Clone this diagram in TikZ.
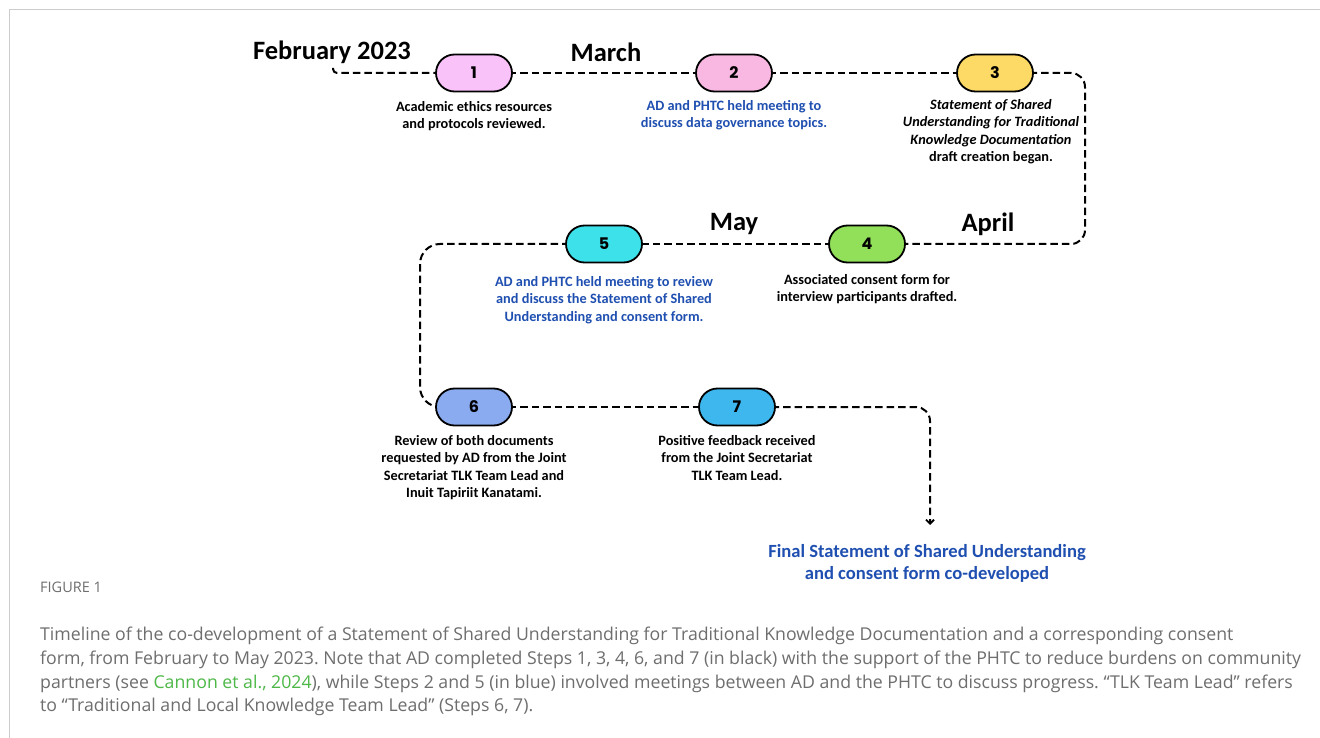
\documentclass[tikz,border=0pt]{standalone}
\usepackage{fontspec}
\setmainfont{Carlito}
\newfontfamily\numfont{Poppins}
\newfontfamily\capfont{Open Sans}
\usetikzlibrary{shapes.misc,arrows.meta}
\definecolor{tblue}{HTML}{1F4FB0}
\definecolor{capgray}{HTML}{6E6E6E}
\definecolor{capgreen}{HTML}{4DB848}
\definecolor{c1}{HTML}{F9C2F9}
\definecolor{c2}{HTML}{F8B8E2}
\definecolor{c3}{HTML}{FDD966}
\definecolor{c4}{HTML}{92E05A}
\definecolor{c5}{HTML}{3DE1EA}
\definecolor{c6}{HTML}{8AABF0}
\definecolor{c7}{HTML}{3EB7EF}
\tikzset{
  stepnode/.style={rounded rectangle, draw=black, line width=1.8pt, minimum width=76pt, minimum height=37pt, inner sep=0pt, font=\numfont\bfseries\fontsize{16}{16}\selectfont},
  dashline/.style={draw=black, line width=2pt, dash pattern=on 7.5pt off 4pt, rounded corners=14pt},
  month/.style={font=\bfseries\fontsize{26.5}{26.5}\selectfont, inner sep=0pt},
  lab/.style={align=center, inner sep=0pt, anchor=north, font=\bfseries\fontsize{14.3}{17.5}\selectfont},
  bluelab/.style={lab, text=tblue},
  caption/.style={anchor=base west, inner sep=0pt, text=capgray, font=\capfont\fontsize{17.7}{20}\selectfont}
}
\begin{document}
\frenchspacing
\begin{tikzpicture}[x=1pt,y=-1pt]
\useasboundingbox (0,0) rectangle (1320,738);
\fill[white] (0,0) rectangle (1320,738);
\draw[black!20, line width=1pt] (9.5,738) -- (9.5,9.5) -- (1320,9.5);

% coordinates
\coordinate (start) at (333,68);
\coordinate (c3a) at (1085,73);
\coordinate (c3b) at (1085,244);
\coordinate (c5a) at (420,244);
\coordinate (c5b) at (420,407);
\coordinate (c7a) at (930,407);
\coordinate (endp) at (930,525);

% nodes positions
\path (474,73) coordinate (p1) (734,73) coordinate (p2) (995,73) coordinate (p3)
      (867,244) coordinate (p4) (604,244) coordinate (p5)
      (474,407) coordinate (p6) (737,407) coordinate (p7);

% connectors
\draw[dashline, rounded corners=4pt] (start) -- (333,73) -- (p1);
\draw[dashline] (p1) -- (p2);
\draw[dashline] (p2) -- (p3);
\draw[dashline] (p3) -- (c3a) -- (c3b) -- (p4);
\draw[dashline] (p4) -- (p5);
\draw[dashline, rounded corners=20pt] (p5) -- (c5a) -- (c5b) -- (p6);
\draw[dashline] (p6) -- (p7);
\draw[dashline, -{Straight Barb[length=4pt,width=8pt,line width=1.8pt]}] (p7) -- (c7a) -- (endp);

% step nodes
\node[stepnode, fill=c1] (n1) at (p1) {1};
\node[stepnode, fill=c2] (n2) at (p2) {2};
\node[stepnode, fill=c3] (n3) at (p3) {3};
\node[stepnode, fill=c4] (n4) at (p4) {4};
\node[stepnode, fill=c5] (n5) at (p5) {5};
\node[stepnode, fill=c6] (n6) at (p6) {6};
\node[stepnode, fill=c7] (n7) at (p7) {7};

% months
\node[month] (feb) at (332,52) {February 2023};
\node[month] (mar) at (606,52) {March};
\node[month] (apr) at (988,224) {April};
\node[month] (may) at (734,224) {May};

% labels
\node[lab] (l1) at (474,101) {Academic ethics resources\\and protocols reviewed.};
\node[bluelab] (l2) at (734,100) {AD and PHTC held meeting to\\discuss data governance topics.};
\node[lab] (l3) at (991,99) {\itshape Statement of Shared\\\itshape Understanding for Traditional\\\itshape Knowledge Documentation\\draft creation began.};
\node[lab] (l4) at (867,274) {Associated consent form for\\interview participants drafted.};
\node[bluelab] (l5) at (604,276) {AD and PHTC held meeting to review\\and discuss the Statement of Shared\\Understanding and consent form.};
\node[lab] (l6) at (474,435) {Review of both documents\\requested by AD from the Joint\\Secretariat TLK Team Lead and\\Inuit Tapiriit Kanatami.};
\node[lab] (l7) at (737,435) {Positive feedback received\\from the Joint Secretariat\\TLK Team Lead.};
\node[lab, text=tblue, font=\bfseries\fontsize{18.6}{22}\selectfont] (fin) at (927,544) {Final Statement of Shared Understanding\\and consent form co-developed};

% caption
\node[caption, font=\capfont\fontsize{14.5}{14.5}\selectfont] (fig) at (40,592) {FIGURE 1};
\node[caption] (cap1) at (40,640) {Timeline of the co-development of a Statement of Shared Understanding for Traditional Knowledge Documentation and a corresponding consent};
\node[caption] (cap2) at (40,664) {form, from February to May 2023. Note that AD completed Steps 1, 3, 4, 6, and 7 (in black) with the support of the PHTC to reduce burdens on community};
\node[caption] (cap3) at (40,688) {partners (see \textcolor{capgreen}{Cannon et al., 2024}), while Steps 2 and 5 (in blue) involved meetings between AD and the PHTC to discuss progress. “TLK Team Lead” refers};
\node[caption] (cap4) at (40,711) {to “Traditional and Local Knowledge Team Lead” (Steps 6, 7).};
\end{tikzpicture}
\end{document}
